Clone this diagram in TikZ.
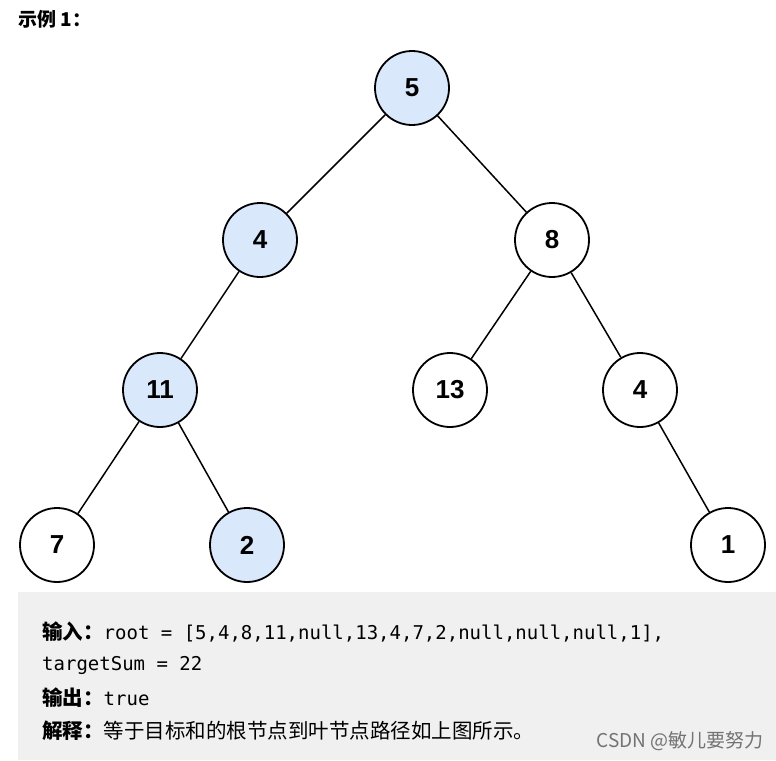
\documentclass[tikz,border=0pt]{standalone}
\usepackage{fontspec}
\setmainfont{Liberation Sans}
\setmonofont{DejaVu Sans Mono}
\newfontfamily\cjk{Noto Sans CJK SC}
\definecolor{hlc}{RGB}{218,232,252}
\begin{document}
\begin{tikzpicture}[x=1pt,y=-1pt,
  tn/.style={circle,draw=black,line width=1.8pt,minimum size=74pt,inner sep=0pt,font=\fontsize{26}{26}\selectfont\bfseries,fill=white},
  hl/.style={fill=hlc},
  ed/.style={line width=1.5pt}]
\useasboundingbox (0,0) rectangle (776,760);
\node[anchor=west,inner sep=0pt,font=\cjk\bfseries\fontsize{19}{19}\selectfont] (title) at (18,19) {示例 1：};
\node[tn,hl] (a) at (412,88) {5};
\node[tn,hl] (b) at (260,240) {4};
\node[tn] (c) at (552,240) {8};
\node[tn,hl] (d) at (160,390) {11};
\node[tn] (e) at (450,390) {13};
\node[tn] (f) at (640,390) {4};
\node[tn] (g) at (57,545) {7};
\node[tn,hl] (h) at (247,545) {2};
\node[tn] (i) at (728,545) {1};
\draw[ed] (a)--(b); \draw[ed] (a)--(c); \draw[ed] (b)--(d);
\draw[ed] (c)--(e); \draw[ed] (c)--(f); \draw[ed] (d)--(g);
\draw[ed] (d)--(h); \draw[ed] (f)--(i);
\fill[black!6] (18,592) rectangle (776,760);
\begin{scope}[every node/.style={anchor=west,inner sep=0pt,font=\fontsize{19}{19}\selectfont}]
\node (l1) at (42,632) {{\cjk\bfseries\fontsize{20.5}{20}\selectfont 输入：}\texttt{root = [5,4,8,11,null,13,4,7,2,null,null,null,1],}};
\node (l2) at (42,665) {\texttt{targetSum = 22}};
\node (l3) at (42,698) {{\cjk\bfseries\fontsize{20.5}{20}\selectfont 输出：}\texttt{true}};
\node (l4) at (42,731) {{\cjk\fontsize{20.5}{20}\selectfont{\bfseries 解释：}等于目标和的根节点到叶节点路径如上图所示。}};
\end{scope}
\node[anchor=east,inner sep=0pt,text=black!55,font=\cjk\fontsize{19}{19}\selectfont] (wm) at (764,741) {CSDN @敏儿要努力};
\end{tikzpicture}
\end{document}
